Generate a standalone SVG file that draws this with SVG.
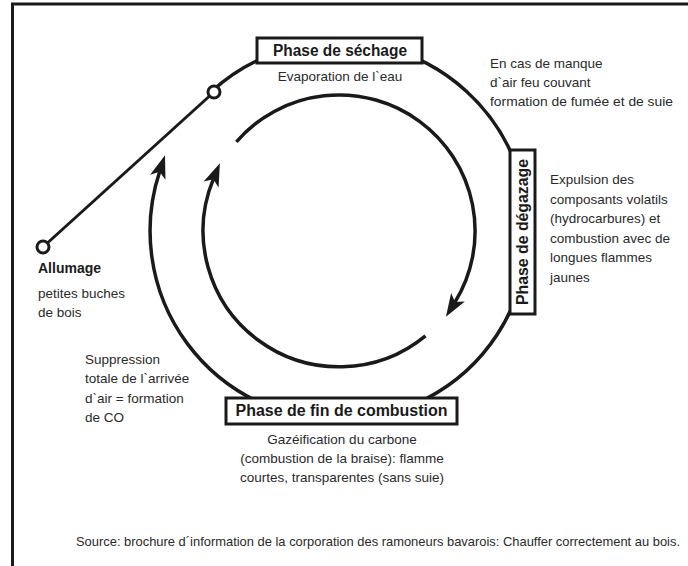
<svg xmlns="http://www.w3.org/2000/svg" width="688" height="566" viewBox="0 0 688 566">
<style>
.ln{fill:none;stroke:#1a1a1a;stroke-width:3.5}
.box{fill:#fff;stroke:#1a1a1a;stroke-width:3}
.ttl{font-family:"Liberation Sans",Arial,sans-serif;font-weight:bold;font-size:16px;fill:#1a1a1a}
.t{font-family:"Liberation Sans",Arial,sans-serif;font-size:13.5px;fill:#2a2a2a}
.dot{fill:#fff;stroke:#1a1a1a;stroke-width:3}
</style>
<defs>
<marker id="ah" markerUnits="userSpaceOnUse" markerWidth="30" markerHeight="30" refX="0" refY="0" viewBox="-8 -10 26 20" orient="auto" overflow="visible">
<path d="M15,0 L-5,-7 L0,0 L-5,7 Z" fill="#1a1a1a"/>
</marker>
</defs>
<rect width="688" height="566" fill="#fff"/>
<g id="frame">
<path d="M12.5,566 V4 H688" fill="none" stroke="#1a1a1a" stroke-width="3"/>
</g>
<g id="connectors">
<path class="ln" d="M212.5,90.6 A189,189 0 1 1 159.6,171.7" marker-end="url(#ah)"/>
<path class="ln" d="M236.4,141.8 A136,136 0 0 1 455.0,302.1" marker-end="url(#ah)"/>
<path class="ln" d="M425.5,335.9 A136,136 0 0 1 213.3,179.2" marker-end="url(#ah)"/>
<line x1="43" y1="247" x2="214" y2="92" stroke="#1a1a1a" stroke-width="3"/>
</g>
<g id="allumage">
<circle class="dot" cx="43" cy="247" r="6"/>
<text class="ttl" x="38" y="273" font-size="14" style="font-size:14px">Allumage</text>
<text class="t" x="38" y="298">petites buches</text>
<text class="t" x="38" y="317">de bois</text>
</g>
<g id="upper-point">
<circle class="dot" cx="214" cy="92" r="6"/>
</g>
<g id="sechage">
<rect class="box" x="257" y="38" width="165" height="25"/>
<text class="ttl" x="340" y="56" text-anchor="middle" textLength="134" lengthAdjust="spacingAndGlyphs">Phase de séchage</text>
<text class="t" x="340" y="81" text-anchor="middle">Evaporation de l`eau</text>
</g>
<g id="manque-air">
<text class="t" x="490" y="68">En cas de manque</text>
<text class="t" x="490" y="87">d`air feu couvant</text>
<text class="t" x="490" y="106" textLength="183" lengthAdjust="spacingAndGlyphs">formation de fumée et de suie</text>
</g>
<g id="degazage">
<rect class="box" x="510" y="150" width="25" height="164"/>
<text class="ttl" transform="translate(528,232) rotate(-90)" x="0" y="0" text-anchor="middle" textLength="146" lengthAdjust="spacingAndGlyphs">Phase de dégazage</text>
<text class="t" x="550" y="184">Expulsion des</text>
<text class="t" x="550" y="203.5">composants volatils</text>
<text class="t" x="550" y="223">(hydrocarbures) et</text>
<text class="t" x="550" y="242.5">combustion avec de</text>
<text class="t" x="550" y="262">longues flammes</text>
<text class="t" x="550" y="281.5">jaunes</text>
</g>
<g id="fin-combustion">
<rect class="box" x="226" y="398" width="231" height="26"/>
<text class="ttl" x="341.5" y="416" text-anchor="middle" textLength="212" lengthAdjust="spacingAndGlyphs">Phase de fin de combustion</text>
<text class="t" x="342" y="444" text-anchor="middle">Gazéification du carbone</text>
<text class="t" x="342" y="463" text-anchor="middle">(combustion de la braise): flamme</text>
<text class="t" x="342" y="482" text-anchor="middle">courtes, transparentes (sans suie)</text>
</g>
<g id="suppression">
<text class="t" x="85" y="364">Suppression</text>
<text class="t" x="85" y="383">totale de l`arrivée</text>
<text class="t" x="85" y="403">d`air = formation</text>
<text class="t" x="85" y="422">de CO</text>
</g>
<g id="source">
<text class="t" x="76" y="546" style="font-size:13px" textLength="604" lengthAdjust="spacingAndGlyphs">Source: brochure d´information de la corporation des ramoneurs bavarois: Chauffer correctement au bois.</text>
</g>
</svg>
